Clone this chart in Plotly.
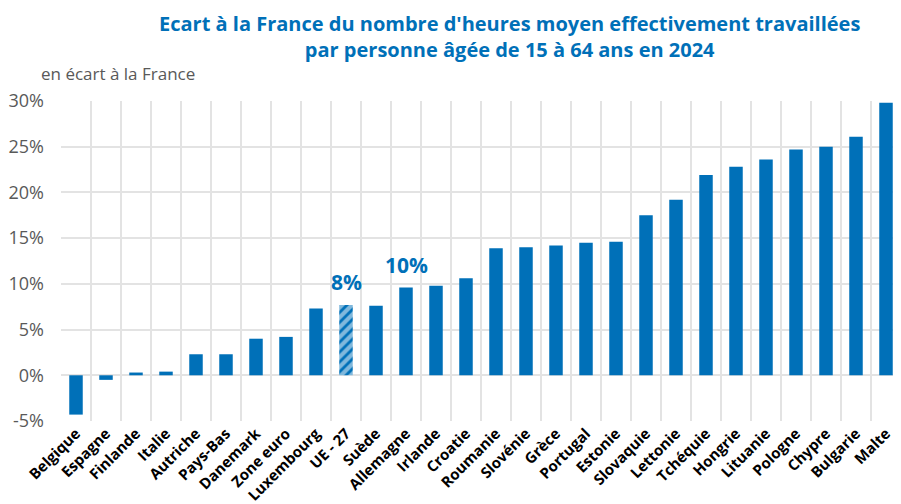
import plotly.graph_objects as go

categories = ["Belgique", "Espagne", "Finlande", "Italie", "Autriche", "Pays-Bas", "Danemark",
              "Zone euro", "Luxembourg", "UE - 27", "Suède", "Allemagne", "Irlande", "Croatie",
              "Roumanie", "Slovénie", "Grèce", "Portugal", "Estonie", "Slovaquie", "Lettonie",
              "Tchéquie", "Hongrie", "Lituanie", "Pologne", "Chypre", "Bulgarie", "Malte"]
values = [-4.3, -0.5, 0.3, 0.4, 2.3, 2.3, 4.0, 4.2, 7.3, 7.7, 7.6, 9.6, 9.8, 10.6,
          13.9, 14.0, 14.2, 14.5, 14.6, 17.5, 19.2, 21.9, 22.8, 23.6, 24.7, 25.0, 26.1, 29.8]
hatched = ["UE - 27"]
callouts = {"UE - 27": "8%", "Allemagne": "10%"}
y_ticks = [-5, 0, 5, 10, 15, 20, 25, 30]
y_labels = [f"{t}%" for t in y_ticks]

BLUE = "#0070B8"
FONT = "Open Sans"

shapes_pat = ["/" if c in hatched else "" for c in categories]
colors = [BLUE for c in categories]
bgcolors = ["white" if c in hatched else BLUE for c in categories]

fig = go.Figure()
fig.add_trace(go.Bar(
    x=categories, y=values, width=0.45,
    marker=dict(color=colors, line=dict(width=0),
                pattern=dict(shape=shapes_pat, fgcolor=BLUE, bgcolor=bgcolors,
                             size=7, solidity=0.6)),
    hoverinfo="x+y",
))

annotations = []
for c, txt in callouts.items():
    i = categories.index(c)
    annotations.append(dict(x=c, y=values[i], text=txt, showarrow=False, yshift=23,
                            yanchor="middle", yref="y", xref="x",
                            font=dict(family=FONT, size=21, color=BLUE, weight="bold")))
annotations.append(dict(x=-0.026, y=1.0875, xref="paper", yref="paper",
                        text="en écart à la France", showarrow=False,
                        xanchor="left", yanchor="middle",
                        font=dict(family=FONT, size=17, color="#595959")))
annotations.append(dict(x=0.5345, y=1.203, xref="paper", yref="paper",
                        text="Ecart à la France du nombre d'heures moyen effectivement travaillées<br>par personne âgée de 15 à 64 ans en 2024",
                        showarrow=False, xanchor="center", yanchor="middle", align="center",
                        font=dict(family=FONT, size=20, color=BLUE, weight="bold")))

# page body has an 8px margin: figure is offset by 8px right and down
fig.update_layout(
    width=893, height=496,
    margin=dict(l=53, r=0, t=93, b=83, autoexpand=False),
    paper_bgcolor="white", plot_bgcolor="white",
    showlegend=False,
    annotations=annotations,
)
fig.update_xaxes(
    type="category", tickson="boundaries", showgrid=True, gridcolor="#E3E3E3", gridwidth=2,
    tickangle=-45, ticks="", showline=False, zeroline=False, automargin=False,
    tickfont=dict(family=FONT, size=15, color="black", weight="bold"),
    range=[-0.5, len(categories) - 0.5],
)
fig.update_yaxes(
    range=[-5, 30], tickvals=y_ticks, ticktext=y_labels, showgrid=True,
    gridcolor="#E3E3E3", gridwidth=2, zeroline=False, showline=False, ticks="",
    ticklabelstandoff=16, automargin=False,
    tickfont=dict(family=FONT, size=18, color="#595959"),
)
fig.write_html("out.html")
